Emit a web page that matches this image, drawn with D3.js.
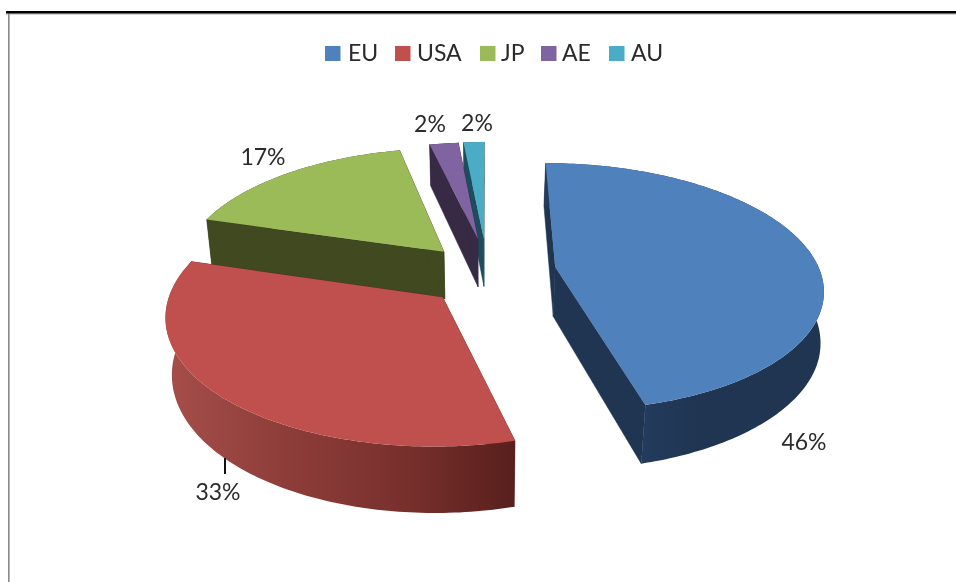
<!DOCTYPE html>
<html>
<head>
<meta charset="utf-8">
<script src="https://cdn.jsdelivr.net/npm/d3@7"></script>
<style>
html,body{margin:0;padding:0;background:#fff;overflow:hidden}
svg{filter:blur(0.45px)}
text{font-family:Lato,"Open Sans",sans-serif;fill:#2b2b2b}
</style>
</head>
<body>
<svg id="chart" width="956" height="582"></svg>
<script>
// ---- data ----
const categories = ["EU", "USA", "JP", "AE", "AU"];
const shares = [46, 33, 17.4, 2.1, 1.5];
const explosion = [0.265, 0.225, 0.235, 0.2, 0.18];

// ---- styles and layout ----
const topColors = ["#4F81BD", "#C0504D", "#9BBB59", "#8064A2", "#4BACC6"];
const wallColors = ["#1F3551", "#5C2421", "#40491F", "#362A45", "#1D4D5C"];
const legendSwatchX = [325, 395, 480, 541, 609];
const legendTextX = [348, 417, 501, 562, 631];
const labelX = [804, 218, 263, 430, 477];
const labelY = [444, 494, 159, 126, 125];
const drawOrder = [4, 3, 2, 0, 1];
const yExplode = [1.27, 1.02, 1.27, 1.43, 1.59];
const apexNudge = [0, 5, 5, 0, 0];
const sliceDepth = [50, 54, 54, 50, 50];

const W = 956, H = 582;
const cx = 486, cy = 272, D = 6.2;
const sx = d3.scaleLinear().domain([-1, 1]).range([cx - 265, cx + 265]);
const sy = d3.scaleLinear().domain([-1, 1]).range([cy - 122, cy + 122]);
// how far the lower face pulls in toward the middle, by distance to the right of it
const pullRight = d3.scaleLinear().domain([0, 160, 336]).range([0.03, 0.026, 0.01]).clamp(true);

const svg = d3.select("#chart");
const line = d3.line();

function project(X, Y, depth) {
  const w = D / (D - Y);
  const px = sx(X * w), py = sy(Y * w);
  if (!depth) return [px, py];
  const k = px > cx ? pullRight(px - cx) : 0.02;
  return [px - (px - cx) * k, py + depth * w];
}

const defs = svg.append("defs");
const redGrad = defs.append("linearGradient").attr("id", "rimUSA")
  .attr("gradientUnits", "userSpaceOnUse")
  .attr("x1", 165).attr("x2", 517).attr("y1", 0).attr("y2", 0);
[[0, "#A64E4A"], [0.35, "#8D3D39"], [0.7, "#772F2C"], [1, "#571F1C"]]
  .forEach(s => redGrad.append("stop").attr("offset", s[0]).attr("stop-color", s[1]));
const blueGrad = defs.append("linearGradient").attr("id", "rimEU")
  .attr("gradientUnits", "userSpaceOnUse")
  .attr("x1", 645).attr("x2", 700).attr("y1", 0).attr("y2", 0);
[[0, "#233B5C"], [1, "#1F3551"]]
  .forEach(s => blueGrad.append("stop").attr("offset", s[0]).attr("stop-color", s[1]));

const pie = d3.pie().sort(null).value(d => d);
const slices = pie(shares);

const pieG = svg.append("g");
drawOrder.forEach(i => {
  const s = slices[i];
  const mid = (s.startAngle + s.endAngle) / 2;
  const h = sliceDepth[i];
  const ox = Math.sin(mid) * explosion[i];
  const oy = -Math.cos(mid) * explosion[i] * yExplode[i];
  const rimPt = (a, d) => project(ox + Math.sin(a), oy - Math.cos(a), d);
  const n = Math.max(2, Math.ceil((s.endAngle - s.startAngle) / (Math.PI / 180)));
  const angles = d3.range(n + 1).map(k => s.startAngle + (s.endAngle - s.startAngle) * k / n);
  const a0 = project(ox, oy, 0);
  const apexT = [a0[0], a0[1] + apexNudge[i]], apexB = project(ox, oy, h);
  apexB[1] += i === 1 ? apexNudge[i] : 0;
  const g = pieG.append("g").attr("class", "slice-" + categories[i]);
  const wall = wallColors[i];

  [s.startAngle, s.endAngle].forEach(a => {
    const d = line([apexT, rimPt(a, 0), rimPt(a, h), apexB]) + "Z";
    g.append("path").attr("d", d).attr("fill", wall).attr("stroke", wall).attr("stroke-width", 0.5);
  });
  const rimFill = i === 1 ? "url(#rimUSA)" : i === 0 ? "url(#rimEU)" : wall;
  const rimPts = angles.map(a => rimPt(a, 0)).concat(angles.slice().reverse().map(a => rimPt(a, h)));
  g.append("path").attr("d", line(rimPts) + "Z").attr("fill", rimFill);
  const topPts = [apexT].concat(angles.map(a => rimPt(a, 0)));
  g.append("path").attr("d", line(topPts) + "Z").attr("fill", topColors[i]);
});

// leader line of the 33% label
svg.append("line").attr("x1", 225).attr("x2", 225).attr("y1", 458).attr("y2", 474)
  .attr("stroke", "#111").attr("stroke-width", 2);

// data labels
const total = d3.sum(shares);
svg.append("g").selectAll("text").data(shares).join("text")
  .attr("x", (d, i) => labelX[i]).attr("y", (d, i) => labelY[i])
  .attr("text-anchor", "middle").attr("dominant-baseline", "middle")
  .attr("font-size", 23)
  .text(d => Math.round(d / total * 100) + "%");

// legend
const legend = svg.append("g");
legend.selectAll("rect").data(categories).join("rect")
  .attr("x", (d, i) => legendSwatchX[i]).attr("y", 46).attr("width", 15.5).attr("height", 15)
  .attr("fill", (d, i) => topColors[i]);
legend.selectAll("text").data(categories).join("text")
  .attr("x", (d, i) => legendTextX[i]).attr("y", 55)
  .attr("dominant-baseline", "middle").attr("font-size", 23)
  .text(d => d);

// frame
svg.append("rect").attr("x", 8).attr("y", 13).attr("width", 1.6).attr("height", H - 13).attr("fill", "#8a8a8a");
svg.append("rect").attr("x", 6).attr("y", 13.5).attr("width", W - 6).attr("height", 1).attr("fill", "#aaa");
svg.append("rect").attr("x", 6).attr("y", 11).attr("width", W - 6).attr("height", 2.5).attr("fill", "#000");
</script>
</body>
</html>
